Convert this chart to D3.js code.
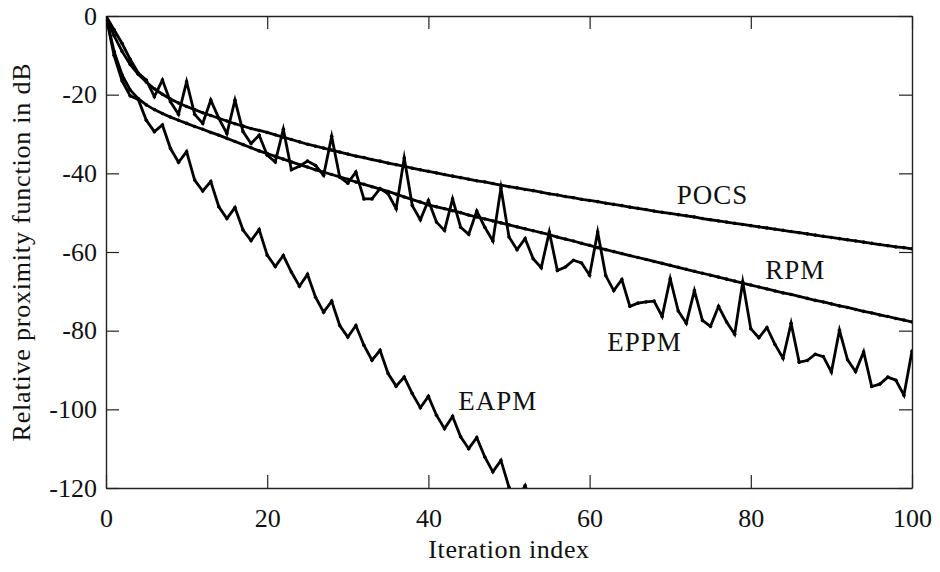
<!DOCTYPE html>
<head>
  <meta charset="utf-8">
  <script src="https://d3js.org/d3.v7.min.js"></script>
  <style>
    body { margin: 0; background: #fff; }
    svg { width: 940px; height: 572px; display: block; }
    text { font-family: "Liberation Serif", "DejaVu Serif", serif; fill: #111; }
  </style>
</head>

<body>
  <svg></svg>

  <script>
    const width = 940;
    const height = 572;

    // iteration index 0..100 for the full-length series
    const iterations = d3.range(0, 101);

    // relative proximity function in dB
    const pocs = [
      0, -5, -9, -12.3, -14.8, -16.8, -18.5, -19.9, -21.1, -22.1, -23.0,
      -23.8, -24.6, -25.3, -26.0, -26.7, -27.4, -28.0, -28.6, -29.1, -29.6,
      -30.2, -30.8, -31.4, -32.0, -32.6, -33.1, -33.6, -34.1, -34.6, -35.1,
      -35.6, -36.0, -36.5, -36.9, -37.4, -37.8, -38.2, -38.7, -39.1, -39.5,
      -39.9, -40.3, -40.7, -41.1, -41.5, -41.9, -42.2, -42.6, -43.0, -43.4,
      -43.7, -44.1, -44.4, -44.8, -45.2, -45.5, -45.9, -46.2, -46.6, -46.9,
      -47.2, -47.6, -47.9, -48.2, -48.6, -48.9, -49.2, -49.6, -49.9, -50.2,
      -50.5, -50.8, -51.1, -51.5, -51.8, -52.1, -52.4, -52.7, -53.0, -53.3,
      -53.6, -53.9, -54.2, -54.5, -54.8, -55.1, -55.4, -55.7, -56.0, -56.3,
      -56.6, -56.9, -57.2, -57.5, -57.8, -58.1, -58.4, -58.7, -58.9, -59.2
    ];

    const rpm = [
      0, -9, -15, -18.8, -21, -22.6, -23.8, -24.8, -25.7, -26.5, -27.3,
      -28.1, -28.8, -29.6, -30.3, -31.1, -31.9, -32.7, -33.5, -34.3, -35.0,
      -35.7, -36.4, -37.1, -37.8, -38.4, -39.1, -39.7, -40.3, -40.9, -41.5,
      -42.2, -42.8, -43.4, -44.0, -44.6, -45.3, -46.0, -46.7, -47.3, -48.0,
      -48.5, -49.0, -49.5, -50.0, -50.6, -51.1, -51.6, -52.1, -52.6, -53.1,
      -53.6, -54.1, -54.6, -55.1, -55.6, -56.2, -56.7, -57.2, -57.8, -58.3,
      -58.9, -59.4, -59.9, -60.4, -60.9, -61.4, -61.9, -62.4, -62.9, -63.4,
      -63.9, -64.4, -64.9, -65.4, -65.9, -66.4, -66.9, -67.4, -67.9, -68.4,
      -68.9, -69.4, -69.9, -70.4, -70.8, -71.3, -71.8, -72.3, -72.7, -73.2,
      -73.7, -74.1, -74.6, -75.1, -75.5, -76.0, -76.4, -76.9, -77.3, -77.8
    ];

    const eppm = [
      0, -3.5, -7, -11, -14.5, -16.3, -20.5, -16.3, -21.8, -25, -16.7,
      -25, -27.3, -21.4, -26, -29.9, -21.4, -29.4, -32.4, -30.3, -35.4,
      -37.1, -28.8, -39.1, -38.2, -36.9, -38, -40.5, -30.6, -41, -42.5,
      -39.7, -46.5, -46.5, -43.9, -45.2, -49, -36.1, -48.2, -51.8, -46.9,
      -52.4, -54.5, -46.5, -53.7, -55.5, -49.6, -53.7, -57.2, -43.7, -56.2,
      -59.4, -56.6, -61.7, -64, -54.9, -64.7, -63.8, -62.1, -62.8, -65.9,
      -54.9, -66, -69.8, -67, -73.8, -73, -72.7, -72.5, -76.4, -66.8,
      -75, -78.1, -69.8, -77.4, -78.9, -73.8, -77.8, -80.9, -67.6, -79.5,
      -81.8, -79.2, -83.5, -87, -78.1, -88, -87.6, -86, -86.6, -90.5,
      -79.9, -87.4, -90.4, -85.4, -94.2, -93.6, -91.8, -92.6, -96.4, -85.2
    ];

    // EAPM leaves the plotted range after about 50 iterations
    const eapm = [
      0, -10, -16.5, -20.3, -21.2, -26.5, -29.4, -27.7, -33.7, -37.2, -34.5,
      -41.7, -44.5, -42.1, -48.5, -51.5, -48.7, -54.4, -57.1, -54.3, -60.8,
      -63.7, -60.9, -65.1, -68.7, -65.7, -71.5, -75.3, -72.5, -78.7, -81.6,
      -78.7, -83.7, -87.5, -85, -90.9, -94.1, -91.8, -96, -99.6, -96.7,
      -101.5, -104.9, -101.8, -107, -110, -107.2, -112.1, -115.9, -113, -119.8,
      -123, -119.4, -125, -128.5
    ];

    const seriesNames = ['POCS', 'RPM', 'EPPM', 'EAPM'];
    const seriesValues = [pocs, rpm, eppm, eapm];

    const xTicks = [0, 20, 40, 60, 80, 100];
    const yTicks = [-120, -100, -80, -60, -40, -20, 0];

    // where the curve names sit, in data units
    const labelSpots = [
      { name: 'POCS', x: 70.8, y: -47.9 },
      { name: 'RPM', x: 81.8, y: -66.8 },
      { name: 'EPPM', x: 62.2, y: -85.2 },
      { name: 'EAPM', x: 43.7, y: -100.2 }
    ];

    const svg = d3.select('svg')
      .attr('viewBox', `0 0 ${width} ${height}`);

    const m = { left: 106, right: 912, top: 16, bottom: 488 };

    const x = d3.scaleLinear().domain([0, 100]).range([m.left, m.right]);
    const y = d3.scaleLinear().domain([-120, 0]).range([m.bottom, m.top]);

    svg.append('defs').append('clipPath').attr('id', 'plot-clip')
      .append('rect')
      .attr('x', m.left).attr('y', m.top)
      .attr('width', m.right - m.left).attr('height', m.bottom - m.top);

    /*****************************************************
    ** axes: ticks point inward on all four sides
    ******************************************************/
    const fontSize = 26;
    // plain hyphen for negatives, as in the original
    const plain = d => String(d);

    const axisStyle = g => {
      g.select('.domain').attr('stroke', '#222').attr('stroke-width', 1.4);
      g.selectAll('.tick line').attr('stroke', '#222').attr('stroke-width', 1.2);
      g.selectAll('.tick text')
        .attr('font-size', fontSize)
        .attr('font-family', '"Liberation Serif", serif')
        .attr('fill', '#111');
    };

    svg.append('g')
      .attr('transform', `translate(0,${m.bottom})`)
      .call(d3.axisBottom(x).tickValues(xTicks).tickFormat(plain)
        .tickSizeInner(-13).tickSizeOuter(0).tickPadding(21))
      .call(axisStyle);

    svg.append('g')
      .attr('transform', `translate(0,${m.top})`)
      .call(d3.axisTop(x).tickValues(xTicks).tickSizeInner(-13).tickSizeOuter(0).tickFormat(''))
      .call(axisStyle);

    svg.append('g')
      .attr('transform', `translate(${m.left},0)`)
      .call(d3.axisLeft(y).tickValues(yTicks).tickFormat(plain)
        .tickSizeInner(-13).tickSizeOuter(0).tickPadding(9))
      .call(axisStyle);

    svg.append('g')
      .attr('transform', `translate(${m.right},0)`)
      .call(d3.axisRight(y).tickValues(yTicks).tickSizeInner(-13).tickSizeOuter(0).tickFormat(''))
      .call(axisStyle);

    // axis titles
    svg.append('text')
      .attr('x', (m.left + m.right) / 2)
      .attr('y', 558)
      .attr('text-anchor', 'middle')
      .attr('font-size', fontSize)
      .attr('letter-spacing', 0.6)
      .text('Iteration index');

    svg.append('text')
      .attr('transform', `translate(30,${(m.top + m.bottom) / 2})rotate(-90)`)
      .attr('text-anchor', 'middle')
      .attr('font-size', fontSize)
      .attr('letter-spacing', 0.8)
      .text('Relative proximity function in dB');

    /*****************************************************
    ** curves
    ******************************************************/
    const line = d3.line()
      .x((d, i) => x(iterations[i]))
      .y(d => y(d));

    const plot = svg.append('g').attr('clip-path', 'url(#plot-clip)');

    plot.selectAll('path.curve')
      .data(seriesValues).enter().append('path')
      .attr('class', 'curve')
      .attr('d', d => line(d))
      .attr('fill', 'none')
      .attr('stroke', '#000')
      .attr('stroke-width', 2.8)
      .attr('stroke-linejoin', 'miter')
      .attr('stroke-miterlimit', 10);

    // small point markers give the lines their dotted edge
    seriesValues.forEach(vals => {
      plot.selectAll(null)
        .data(vals).enter().append('circle')
        .attr('cx', (d, i) => x(iterations[i]))
        .attr('cy', d => y(d))
        .attr('r', 1.8)
        .attr('fill', '#000');
    });

    // curve names
    svg.selectAll('text.curve-label')
      .data(labelSpots).enter().append('text')
      .attr('class', 'curve-label')
      .attr('x', d => x(d.x))
      .attr('y', d => y(d.y))
      .attr('font-size', 27)
      .attr('letter-spacing', 1)
      .text(d => d.name);
  </script>
</body>
